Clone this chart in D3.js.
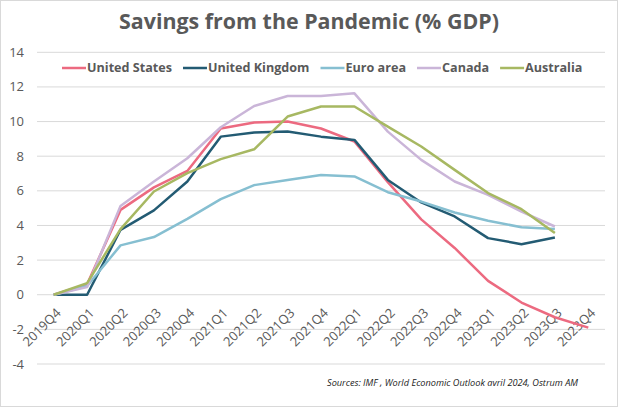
<!DOCTYPE html>
<html>
<head>
<meta charset="utf-8">
<script src="https://d3js.org/d3.v7.min.js"></script>
<style>
  body { margin: 0; background: #fff; }
  svg { display: block; font-family: 'Open Sans', sans-serif; }
  .tick-label { font-size: 13px; fill: #595959; }
  .legend-label { font-size: 12.6px; font-weight: bold; fill: #595959; }
</style>
</head>
<body>
<svg width="618" height="407"></svg>
<script>
// quarters on the x axis
const quarters = ["2019Q4", "2020Q1", "2020Q2", "2020Q3", "2020Q4", "2021Q1", "2021Q2", "2021Q3",
                  "2021Q4", "2022Q1", "2022Q2", "2022Q3", "2022Q4", "2023Q1", "2023Q2", "2023Q3", "2023Q4"];

// savings, % of GDP
const unitedStates  = [0, 0.6, 4.9, 6.2, 7.15, 9.6, 9.95, 10.0, 9.6, 8.85, 6.5, 4.35, 2.7, 0.8, -0.45, -1.3, -1.9];
const unitedKingdom = [0, 0, 3.75, 4.87, 6.54, 9.13, 9.37, 9.42, 9.13, 8.94, 6.63, 5.33, 4.52, 3.27, 2.92, 3.3];
const euroArea      = [0, 0.5, 2.85, 3.33, 4.38, 5.52, 6.33, 6.63, 6.92, 6.83, 5.92, 5.38, 4.75, 4.27, 3.9, 3.8];
const canada        = [0, 0.44, 5.13, 6.54, 7.88, 9.67, 10.9, 11.48, 11.48, 11.63, 9.42, 7.79, 6.54, 5.77, 4.8, 3.94];
const australia     = [0, 0.67, 3.79, 5.96, 7.02, 7.83, 8.4, 10.29, 10.87, 10.87, 9.71, 8.56, 7.21, 5.87, 4.94, 3.56];

const seriesNames  = ["United States", "United Kingdom", "Euro area", "Canada", "Australia"];
const seriesColors = ["#EC6A80", "#235B73", "#86BFD1", "#CAB5D8", "#A7B862"];
const yTicks = [-4, -2, 0, 2, 4, 6, 8, 10, 12, 14];

const series = [unitedStates, unitedKingdom, euroArea, canada, australia].map((vals, i) => ({
    name: seriesNames[i], color: seriesColors[i], values: vals
}));

const svg = d3.select("svg");

// outer border
svg.append("rect")
   .attr("x", 0.5).attr("y", 0.5)
   .attr("width", 617).attr("height", 406)
   .attr("fill", "#fff").attr("stroke", "#d9d9d9");

// scales
let x = d3.scalePoint()
          .domain(quarters)
          .range([37, 605])
          .padding(0.5);

let y = d3.scaleLinear()
          .domain([-4, 14])
          .range([364, 52.3]);

// gridlines
svg.append("g")
   .selectAll("line")
   .data(yTicks)
   .join("line")
   .attr("x1", 37).attr("x2", 605)
   .attr("y1", d => y(d)).attr("y2", d => y(d))
   .attr("stroke", "#d9d9d9").attr("stroke-width", 1);

// y tick labels
svg.append("g")
   .selectAll("text")
   .data(yTicks)
   .join("text")
   .attr("class", "tick-label")
   .attr("x", 24)
   .attr("y", d => y(d))
   .attr("dy", "0.35em")
   .attr("text-anchor", "end")
   .text(d => d);

// x tick labels, rotated
svg.append("g")
   .selectAll("text")
   .data(quarters)
   .join("text")
   .attr("class", "tick-label")
   .attr("text-anchor", "end")
   .attr("transform", d => `translate(${x(d) + 8},${y(0) + 19}) rotate(-45)`)
   .text(d => d);

// lines
const line = d3.line()
    .x((d, i) => x(quarters[i]))
    .y(d => y(d));

svg.append("g")
   .selectAll("path")
   .data(series)
   .join("path")
   .attr("fill", "none")
   .attr("stroke", d => d.color)
   .attr("stroke-width", 2.5)
   .attr("stroke-linejoin", "round")
   .attr("d", d => line(d.values));

// title
svg.append("text")
   .attr("x", 309)
   .attr("y", 29)
   .attr("text-anchor", "middle")
   .style("font-size", "21.4px")
   .style("font-weight", "bold")
   .style("fill", "#595959")
   .text("Savings from the Pandemic (% GDP)");

// legend
const legend = svg.append("g").attr("transform", "translate(62,68)");
let lx = 0;
series.forEach(s => {
    legend.append("line")
          .attr("x1", lx).attr("x2", lx + 24)
          .attr("y1", 0).attr("y2", 0)
          .attr("stroke", s.color).attr("stroke-width", 2.5);
    let t = legend.append("text")
          .attr("class", "legend-label")
          .attr("x", lx + 25)
          .attr("dy", "0.35em")
          .text(s.name);
    lx += 25 + t.node().getComputedTextLength() + 11;
});

// source
svg.append("text")
   .attr("x", 327)
   .attr("y", 386)
   .style("font-size", "9.2px")
   .style("font-style", "italic")
   .style("fill", "#222")
   .text("Sources: IMF , World Economic Outlook avril 2024, Ostrum AM");
</script>
</body>
</html>
